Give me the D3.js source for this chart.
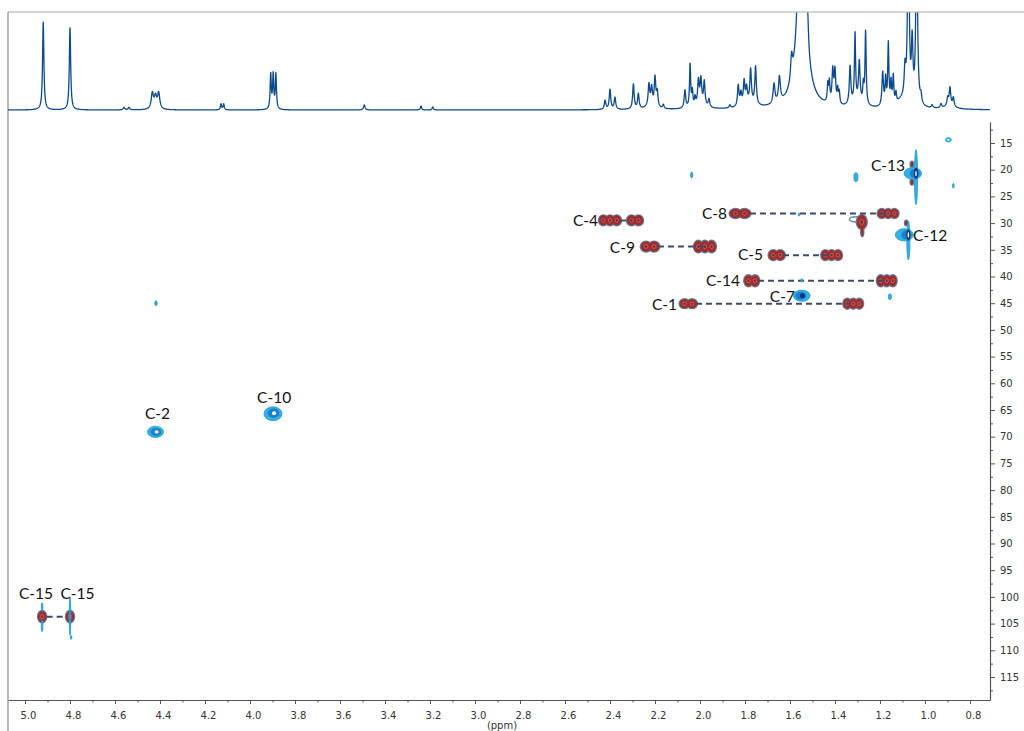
<!DOCTYPE html>
<html><head><meta charset="utf-8">
<script src="https://cdn.jsdelivr.net/npm/d3@7"></script>
<style>html,body{margin:0;padding:0;background:#fff;overflow:hidden}</style>
</head><body>
<svg id="chart" width="1024" height="731"></svg>
<script>
// ---------- DATA ----------
const xMajorTicks = [5.0,4.8,4.6,4.4,4.2,4.0,3.8,3.6,3.4,3.2,3.0,2.8,2.6,2.4,2.2,2.0,1.8,1.6,1.4,1.2,1.0,0.8];
const xMinorTicks = [4.9,4.7,4.5,4.3,4.1,3.9,3.7,3.5,3.3,3.1,2.9,2.7,2.5,2.3,2.1,1.9,1.7,1.5,1.3,1.1,0.9];
const yMajorTicks = [15,20,25,30,35,40,45,50,55,60,65,70,75,80,85,90,95,100,105,110,115];
const yMinorTicks = [12.5,17.5,22.5,27.5,32.5,37.5,42.5,47.5,52.5,57.5,62.5,67.5,72.5,77.5,82.5,87.5,92.5,97.5,102.5,107.5,112.5,117.5];

// 1H projection peak list: [ppm, intensity, half-width (ppm)]
const protonPeaks = [
  [4.919,88,0.0035],[4.800,83,0.0035],[4.560,2.5,0.004],[4.538,2.5,0.004],
  [4.434,16,0.006],[4.420,12,0.006],[4.406,16,0.006],
  [4.129,6,0.003],[4.117,6,0.003],
  [3.908,35,0.003],[3.897,34,0.003],[3.885,35,0.003],
  [3.492,5,0.004],[3.240,4,0.003],[3.188,3,0.003],
  [2.422,9,0.004],[2.400,20,0.004],[2.378,12,0.004],
  [2.296,25,0.004],[2.274,15,0.004],
  [2.227,21,0.004],[2.215,17,0.004],[2.200,29,0.004],[2.190,15,0.004],[2.163,4,0.004],
  [2.067,18,0.004],[2.044,43,0.003],[2.034,15,0.003],[2.022,8,0.003],
  [2.007,24,0.004],[1.996,25,0.004],[1.981,24,0.004],[1.960,8,0.004],[1.867,3,0.004],
  [1.830,21,0.004],[1.818,12,0.004],[1.804,23,0.004],[1.793,15,0.004],[1.775,33,0.004],[1.753,38,0.004],
  [1.671,20,0.005],[1.647,25,0.005],[1.593,24,0.005],
  [1.548,320,0.012],[1.548,40,0.03],[1.521,22,0.004],
  [1.432,18,0.003],[1.425,20,0.003],[1.410,33,0.004],[1.400,33,0.004],[1.388,14,0.003],[1.381,12,0.003],
  [1.333,38,0.004],[1.311,68,0.003],[1.292,40,0.004],[1.274,18,0.003],[1.264,74,0.003],
  [1.188,34,0.004],[1.175,26,0.003],[1.163,62,0.003],[1.151,22,0.003],[1.141,28,0.003],[1.129,10,0.003],
  [1.089,28,0.004],[1.074,200,0.004],[1.057,58,0.004],[1.037,200,0.004],[1.018,8,0.004],
  [0.968,3,0.004],[0.929,4,0.004],[0.899,8,0.004],[0.889,18,0.004],[0.874,9,0.004],
  [1.10,8,0.03],[1.30,6,0.03],[2.00,4,0.03],[1.78,5,0.03],[2.22,4,0.02],[0.89,3,0.03]
];

// Negative-phase (CH2) cross peaks: [1H ppm, 13C ppm, 1H width, 13C width, lobes]
const negPeaks = [
  [2.400,29.5,0.089,1.9,3],[2.289,29.5,0.062,1.9,2],
  [1.822,28.2,0.080,1.7,2],[1.164,28.2,0.084,1.7,3],
  [2.222,34.4,0.071,1.9,2],[1.978,34.4,0.089,2.2,3],
  [1.659,36.0,0.062,1.9,2],[1.415,36.0,0.084,1.9,3],
  [1.770,40.8,0.058,2.1,2],[1.170,40.8,0.080,2.1,3],
  [2.052,45.1,0.067,1.7,2],[1.319,45.1,0.080,1.9,3],
  [1.281,29.8,0.044,2.6,1],[1.279,31.6,0.010,1.8,1],
  [4.924,103.7,0.036,2.2,1],[4.800,103.7,0.036,2.2,1],
  [1.058,19.0,0.012,1.0,1],[1.058,22.3,0.012,1.0,1],[1.083,30.0,0.012,0.9,1]
];
const outlineOnly = [[1.305,29.3,0.062,1.0]];

// Positive-phase (CH/CH3) cross peaks: [1H ppm, 13C ppm, 1H width, 13C width, level]
const posPeaks = [
  [1.040,21.4,0.014,10.3,0],[1.054,20.7,0.078,2.2,0],[1.046,20.7,0.044,1.6,1],[1.040,20.7,0.018,2.0,2],[1.040,20.7,0.005,1.0,3],
  [1.074,33.3,0.014,7.2,0],[1.092,32.2,0.080,2.3,0],[1.082,32.2,0.046,1.7,1],[1.074,32.2,0.018,2.1,2],[1.074,32.2,0.005,1.1,3],
  [1.548,43.6,0.075,2.1,0],[1.552,43.6,0.048,1.5,1],[1.545,43.6,0.022,0.9,2],
  [4.420,69.1,0.071,2.1,0],[4.418,69.1,0.047,1.5,1],[4.415,69.1,0.018,0.6,3],
  [3.898,65.7,0.080,2.6,0],[3.895,65.6,0.052,1.8,1],[3.893,65.6,0.018,0.7,3],
  [4.924,101.9,0.004,1.6,0],[4.924,105.4,0.004,2.2,0],[4.800,103.7,0.005,7.0,0],[4.795,107.6,0.004,0.7,0],
  [2.037,21.0,0.010,1.1,0],[1.307,21.4,0.018,1.7,0],[0.896,14.4,0.026,0.8,0],[0.896,14.4,0.012,0.35,3],
  [0.874,23.0,0.007,0.9,0],[1.156,43.8,0.014,1.1,0],[4.418,45.0,0.011,0.9,0],
  [1.548,40.7,0.007,0.6,0],[1.560,28.4,0.005,0.6,0]
];

// Dashed correlation lines: [13C ppm, 1H start, 1H end]
const correlations = [
  [29.5,2.356,2.304],[28.2,1.778,1.164],[34.4,2.187,1.978],[36.0,1.631,1.415],
  [40.8,1.742,1.178],[45.1,2.018,1.333],[103.7,4.904,4.815]
];

// Assignment labels: [text, 1H ppm, 13C ppm, anchor]
const assignLabels = [
  ["C-4",2.453,29.5,"end"],["C-8",1.880,28.1,"end"],["C-9",2.289,34.5,"end"],
  ["C-5",1.720,35.8,"end"],["C-14",1.822,40.7,"end"],["C-1",2.102,45.1,"end"],
  ["C-7",1.578,43.7,"end"],["C-13",1.089,19.1,"end"],["C-12",1.053,32.2,"start"],
  ["C-2",4.411,65.6,"middle"],["C-10",3.893,62.6,"middle"],
  ["C-15",4.951,99.3,"middle"],["C-15",4.767,99.3,"middle"]
];

// ---------- CHART ----------
const svg = d3.select("#chart");
const x = d3.scaleLinear().domain([5.0756, 0.7111]).range([8, 990]);
const yC = d3.scaleLinear().domain([11.067, 119.307]).range([122, 700]);
const yH = d3.scaleLinear().domain([0, 98]).range([110, 12]);
const pxH = Math.abs(x(1) - x(0));
const pxC = Math.abs(yC(1) - yC(0));

// frame lines
svg.append("line").attr("x1", 8).attr("x2", 1024).attr("y1", 12).attr("y2", 12).attr("stroke", "#aaa").attr("stroke-width", 1.2);
svg.append("line").attr("x1", 8).attr("x2", 8).attr("y1", 12).attr("y2", 731).attr("stroke", "#888").attr("stroke-width", 1.2);

// 1D projection
const defs = svg.append("defs");
defs.append("clipPath").attr("id", "topclip").append("rect").attr("x", 8).attr("y", 12.5).attr("width", 990).attr("height", 110);
const specPts = [];
for (let p = 5.0756; p >= 0.7111; p -= 0.0008) {
  let s = 0;
  for (const [c, h, w] of protonPeaks) s += h * w * w / ((p - c) * (p - c) + w * w);
  specPts.push([p, s]);
}
svg.append("path").attr("clip-path", "url(#topclip)")
  .datum(specPts)
  .attr("d", d3.line().x(d => x(d[0])).y(d => yH(d[1])))
  .attr("fill", "none").attr("stroke", "#0d4a8c").attr("stroke-width", 1.3).attr("stroke-linejoin", "round");

// axes
const gx = svg.append("g").attr("transform", "translate(0,700)");
gx.call(d3.axisBottom(x).tickValues(xMajorTicks).tickSize(4).tickSizeOuter(0).tickPadding(8).tickFormat(d3.format(".1f")));
gx.append("g").call(d3.axisBottom(x).tickValues(xMinorTicks).tickSize(2.5).tickFormat("")).select(".domain").remove();
gx.selectAll("line").attr("stroke", "#555");
gx.select(".domain").attr("stroke", "#555").attr("stroke-width", 1.2);
gx.selectAll("text").attr("font-family", "DejaVu Sans, Verdana, sans-serif").attr("font-size", 10).attr("fill", "#333").attr("dx", 3);
svg.append("text").attr("x", 502).attr("y", 729).attr("text-anchor", "middle")
  .attr("font-family", "DejaVu Sans, Verdana, sans-serif").attr("font-size", 10).attr("fill", "#333").text("(ppm)");

const gy = svg.append("g").attr("transform", "translate(990,0)");
gy.call(d3.axisRight(yC).tickValues(yMajorTicks).tickSize(5).tickSizeOuter(0).tickPadding(5));
gy.append("g").call(d3.axisRight(yC).tickValues(yMinorTicks).tickSize(3).tickFormat("")).select(".domain").remove();
gy.selectAll("line").attr("stroke", "#555");
gy.select(".domain").attr("stroke", "#555").attr("stroke-width", 1.2);
gy.selectAll("text").attr("font-family", "DejaVu Sans, Verdana, sans-serif").attr("font-size", 10).attr("fill", "#333");

// 2D contours
const g2 = svg.append("g");
const lobes = [];
negPeaks.forEach(([h, c, wh, wc, n]) => {
  for (let i = 0; i < n; i++) {
    lobes.push({h: h + wh * (i - (n - 1) / 2) / n, c: c, rx: (wh / n) / 2 * pxH * (n > 1 ? 1.3 : 1), ry: wc / 2 * pxC});
  }
});
g2.selectAll("ellipse.ol").data(outlineOnly).join("ellipse")
  .attr("cx", d => x(d[0])).attr("cy", d => yC(d[1]))
  .attr("rx", d => d[2] / 2 * pxH).attr("ry", d => d[3] / 2 * pxC)
  .attr("fill", "none").attr("stroke", "#6f8aa6").attr("stroke-width", 1.4);
g2.selectAll("ellipse.nout").data(lobes).join("ellipse")
  .attr("cx", d => x(d.h)).attr("cy", d => yC(d.c))
  .attr("rx", d => d.rx + 1.2).attr("ry", d => d.ry + 1.1)
  .attr("fill", "#627d99");
g2.selectAll("ellipse.nfill").data(lobes).join("ellipse")
  .attr("cx", d => x(d.h)).attr("cy", d => yC(d.c))
  .attr("rx", d => d.rx).attr("ry", d => d.ry)
  .attr("fill", "#a02c2d");
g2.selectAll("ellipse.nin").data(lobes.filter(d => d.rx > 2.5)).join("ellipse")
  .attr("cx", d => x(d.h)).attr("cy", d => yC(d.c))
  .attr("rx", d => d.rx * 0.38).attr("ry", d => d.ry * 0.36)
  .attr("fill", "#8a2224").attr("stroke", "#cf8f8f").attr("stroke-width", 0.6);

// dashed correlation lines
g2.selectAll("line.corr").data(correlations).join("line")
  .attr("x1", d => x(d[1])).attr("x2", d => x(d[2]))
  .attr("y1", d => yC(d[0])).attr("y2", d => yC(d[0]))
  .attr("stroke", "#3d4b64").attr("stroke-width", 2).attr("stroke-dasharray", "6,4");

// positive peaks
const posFill = ["#33b0e2", "#1c7fcb", "#0c2f7e", "#ffffff"];
const posStroke = ["#1a98cf", "none", "none", "none"];
g2.selectAll("ellipse.pos").data(posPeaks).join("ellipse")
  .attr("cx", d => x(d[0])).attr("cy", d => yC(d[1]))
  .attr("rx", d => Math.max(0.8, d[2] / 2 * pxH)).attr("ry", d => d[3] / 2 * pxC)
  .attr("fill", d => posFill[d[4]]).attr("stroke", d => posStroke[d[4]]).attr("stroke-width", 0.8);

// labels
g2.selectAll("text.lab").data(assignLabels).join("text")
  .attr("x", d => x(d[1])).attr("y", d => yC(d[2]))
  .attr("text-anchor", d => d[3]).attr("dominant-baseline", "central")
  .attr("font-family", "Lato, 'Open Sans', sans-serif").attr("font-size", 15.5).attr("fill", "#111")
  .text(d => d[0]);
</script>
</body></html>
